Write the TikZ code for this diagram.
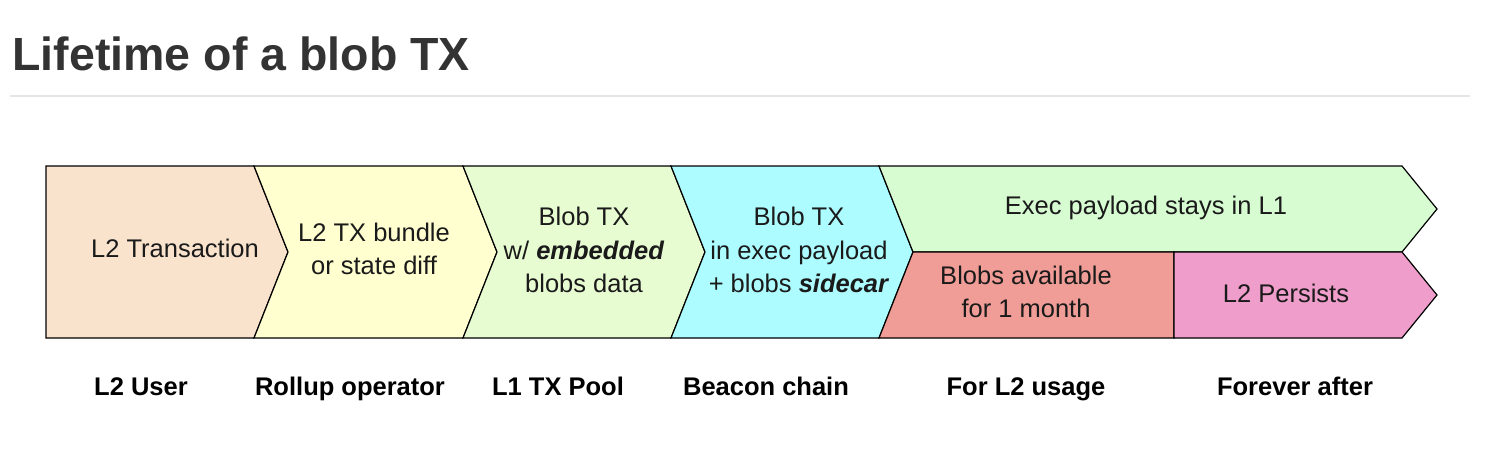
\documentclass[tikz,border=0pt]{standalone}
\usepackage{fontspec}
\setmainfont{Liberation Sans}
\usetikzlibrary{positioning}
\definecolor{blobTitle}{HTML}{333333}
\definecolor{blobRule}{HTML}{E6E6E6}
\definecolor{blobPeach}{HTML}{FAE3CD}
\definecolor{blobYellow}{HTML}{FFFFD0}
\definecolor{blobLime}{HTML}{E8FCD2}
\definecolor{blobCyan}{HTML}{ADFCFF}
\definecolor{blobMint}{HTML}{D7FCD2}
\definecolor{blobRed}{HTML}{F09D97}
\definecolor{blobPink}{HTML}{EF9DCA}
\definecolor{blobInk}{HTML}{1A1A1A}

\begin{document}
\begin{tikzpicture}[x=1pt, y=-1pt, font=\fontsize{25.5}{33.5}\selectfont,
    etapa/.style={draw=black, line width=1.2pt, line join=miter},
    rotulo/.style={align=center, text=blobInk},
    fase/.style={anchor=base, font=\fontsize{25.5}{28}\selectfont\bfseries}]
  \useasboundingbox (0,0) rectangle (1504,464);
  \node[anchor=base west, text=blobTitle, font=\fontsize{46.5}{56}\selectfont\bfseries]
    (titulo) at (9,70) {Lifetime of a blob TX};
  \draw[blobRule, line width=1.5pt] (10,96) -- (1470,96);

  \foreach \xa/\xb/\dent/\col in {46/254/0/blobPeach, 254/463/34/blobYellow,
                                  463/671/34/blobLime, 671/879/34/blobCyan} {
    \filldraw[etapa, fill=\col] (\xa,166) -- (\xb,166) -- (\xb+34,252) -- (\xb,338)
      -- (\xa,338) -- (\xa+\dent,252) -- cycle;
  }
  \filldraw[etapa, fill=blobMint] (879,166) -- (1402,166) -- (1437,209) -- (1402,252)
    -- (913,252) -- cycle;
  \filldraw[etapa, fill=blobRed] (913,252) -- (1174,252) -- (1174,338) -- (879,338) -- cycle;
  \filldraw[etapa, fill=blobPink] (1174,252) -- (1402,252) -- (1437,295) -- (1402,338)
    -- (1174,338) -- cycle;

  \node[rotulo] (transaccion) at (175,248) {L2 Transaction};
  \node[rotulo] (paquete) at (374,249) {L2 TX bundle\\or state diff};
  \node[rotulo] (pool) at (584,250) {Blob TX\\w/ \textbf{\textit{embedded}}\\blobs data};
  \node[rotulo] (beacon) at (799,250) {Blob TX\\in exec payload\\+ blobs \textbf{\textit{sidecar}}};
  \node[rotulo] (payload) at (1146,208) {Exec payload stays in L1};
  \node[rotulo] (mes) at (1026,292) {Blobs available\\for 1 month};
  \node[rotulo] (persiste) at (1286,293) {L2 Persists};

  \foreach \nombre/\x in {{L2 User}/141, {Rollup operator}/350, {L1 TX Pool}/558,
                          {Beacon chain}/766, {For L2 usage}/1026, {Forever after}/1295} {
    \node[fase] (fase\x) at (\x,395) {\nombre};
  }
\end{tikzpicture}
\end{document}
